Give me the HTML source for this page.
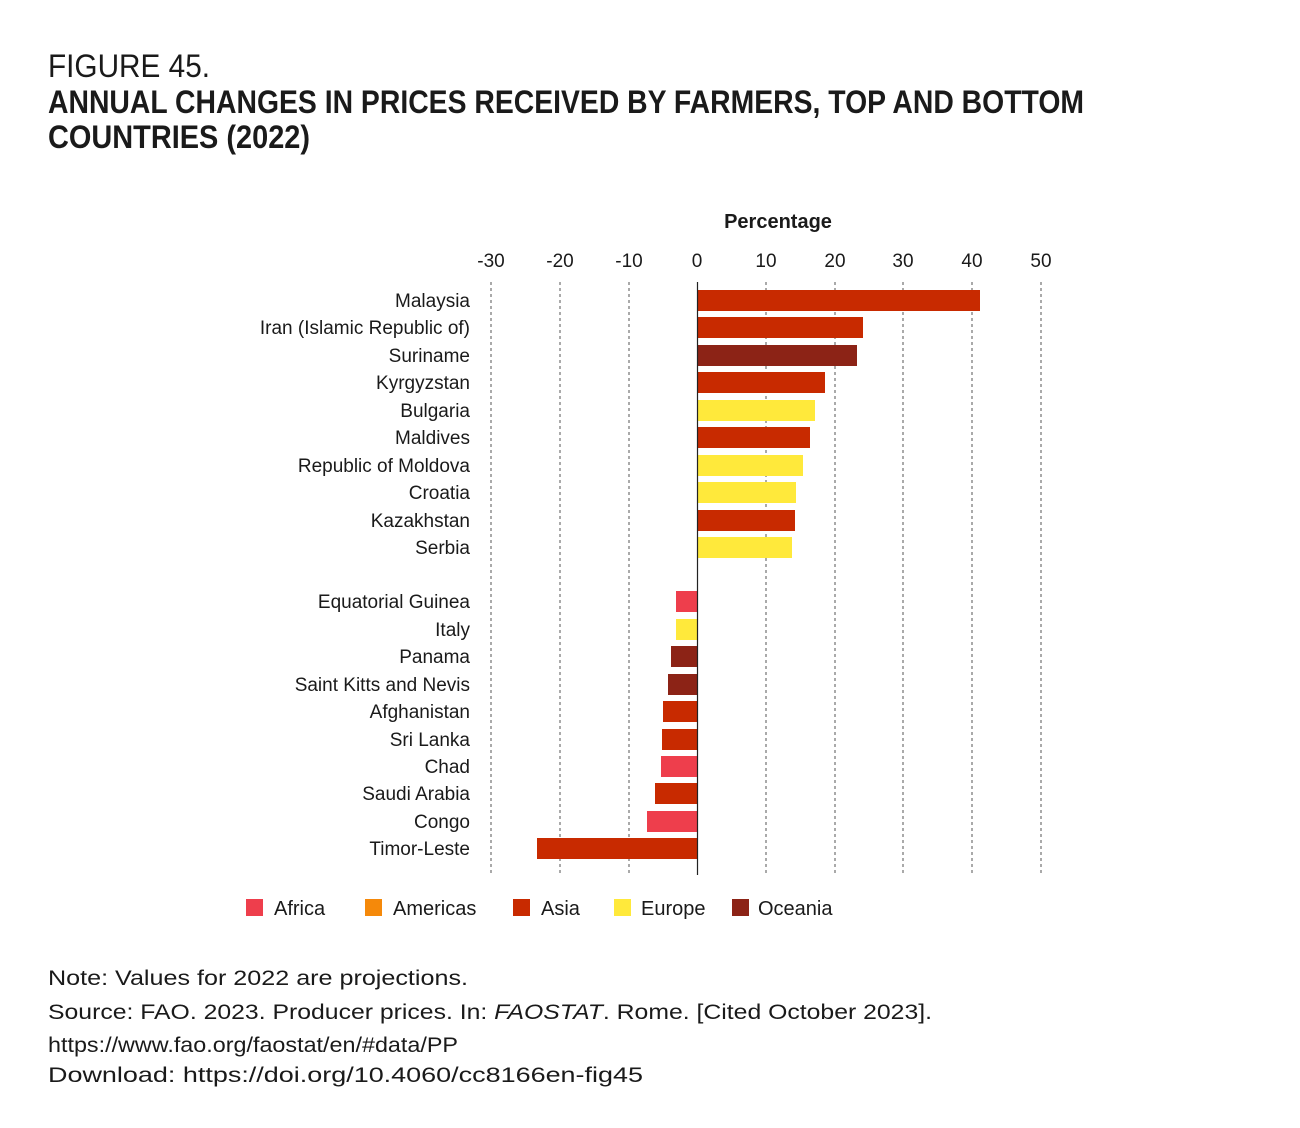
<!DOCTYPE html>
<html><head><meta charset="utf-8"><style>body{margin:0;background:#fff}</style></head>
<body>
<svg width="1300" height="1123" xmlns="http://www.w3.org/2000/svg" font-family="Liberation Sans, sans-serif" fill="#1a1a1a">
<text x="48" y="77" font-size="32" textLength="162" lengthAdjust="spacingAndGlyphs">FIGURE 45.</text>
<text x="48" y="113" font-size="32" font-weight="bold" textLength="1036" lengthAdjust="spacingAndGlyphs">ANNUAL CHANGES IN PRICES RECEIVED BY FARMERS, TOP AND BOTTOM</text>
<text x="48" y="148" font-size="32" font-weight="bold" textLength="262" lengthAdjust="spacingAndGlyphs">COUNTRIES (2022)</text>
<text x="778" y="228" font-size="20" font-weight="bold" text-anchor="middle">Percentage</text>
<g font-size="19" text-anchor="middle">
<text x="491" y="267">-30</text><text x="560" y="267">-20</text><text x="629" y="267">-10</text><text x="697" y="267">0</text><text x="766" y="267">10</text><text x="835" y="267">20</text><text x="903" y="267">30</text><text x="972" y="267">40</text><text x="1041" y="267">50</text>
</g>
<g stroke="#555" stroke-width="1" stroke-dasharray="3,3">
<line x1="491" y1="282" x2="491" y2="875"/><line x1="560" y1="282" x2="560" y2="875"/><line x1="629" y1="282" x2="629" y2="875"/><line x1="766" y1="282" x2="766" y2="875"/><line x1="835" y1="282" x2="835" y2="875"/><line x1="903" y1="282" x2="903" y2="875"/><line x1="972" y1="282" x2="972" y2="875"/><line x1="1041" y1="282" x2="1041" y2="875"/>
</g>
<g>
<rect x="698" y="290" width="282" height="21" fill="#c82a00"/>
<rect x="698" y="317" width="165" height="21" fill="#c82a00"/>
<rect x="698" y="345" width="159" height="21" fill="#8c2316"/>
<rect x="698" y="372" width="127" height="21" fill="#c82a00"/>
<rect x="698" y="400" width="117" height="21" fill="#ffe93b"/>
<rect x="698" y="427" width="112" height="21" fill="#c82a00"/>
<rect x="698" y="455" width="105" height="21" fill="#ffe93b"/>
<rect x="698" y="482" width="98" height="21" fill="#ffe93b"/>
<rect x="698" y="510" width="97" height="21" fill="#c82a00"/>
<rect x="698" y="537" width="94" height="21" fill="#ffe93b"/>
<rect x="676" y="591" width="22" height="21" fill="#ee3e4c"/>
<rect x="676" y="619" width="22" height="21" fill="#ffe93b"/>
<rect x="671" y="646" width="27" height="21" fill="#8c2316"/>
<rect x="668" y="674" width="30" height="21" fill="#8c2316"/>
<rect x="663" y="701" width="35" height="21" fill="#c82a00"/>
<rect x="662" y="729" width="36" height="21" fill="#c82a00"/>
<rect x="661" y="756" width="37" height="21" fill="#ee3e4c"/>
<rect x="655" y="783" width="43" height="21" fill="#c82a00"/>
<rect x="647" y="811" width="51" height="21" fill="#ee3e4c"/>
<rect x="537" y="838" width="161" height="21" fill="#c82a00"/>
</g>
<line x1="697.5" y1="282" x2="697.5" y2="875" stroke="#222" stroke-width="1.2"/>
<g font-size="19" text-anchor="end">
<text x="470" y="307">Malaysia</text><text x="470" y="334">Iran (Islamic Republic of)</text><text x="470" y="362">Suriname</text><text x="470" y="389">Kyrgyzstan</text><text x="470" y="417">Bulgaria</text><text x="470" y="444">Maldives</text><text x="470" y="472">Republic of Moldova</text><text x="470" y="499">Croatia</text><text x="470" y="527">Kazakhstan</text><text x="470" y="554">Serbia</text>
<text x="470" y="608">Equatorial Guinea</text><text x="470" y="636">Italy</text><text x="470" y="663">Panama</text><text x="470" y="691">Saint Kitts and Nevis</text><text x="470" y="718">Afghanistan</text><text x="470" y="746">Sri Lanka</text><text x="470" y="773">Chad</text><text x="470" y="800">Saudi Arabia</text><text x="470" y="828">Congo</text><text x="470" y="855">Timor-Leste</text>
</g>
<g font-size="20">
<rect x="246" y="899" width="17" height="17" fill="#ee3e4c"/><text x="274" y="915">Africa</text>
<rect x="365" y="899" width="17" height="17" fill="#f5890a"/><text x="393" y="915">Americas</text>
<rect x="513" y="899" width="17" height="17" fill="#c82a00"/><text x="541" y="915">Asia</text>
<rect x="614" y="899" width="17" height="17" fill="#ffe93b"/><text x="641" y="915">Europe</text>
<rect x="732" y="899" width="17" height="17" fill="#8c2316"/><text x="758" y="915">Oceania</text>
</g>
<g font-size="21">
<text x="48" y="985" textLength="420" lengthAdjust="spacingAndGlyphs">Note: Values for 2022 are projections.</text>
<text x="48" y="1019" textLength="884" lengthAdjust="spacingAndGlyphs">Source: FAO. 2023. Producer prices. In: <tspan font-style="italic">FAOSTAT</tspan>. Rome. [Cited October 2023].</text>
<text x="48" y="1052" textLength="410" lengthAdjust="spacingAndGlyphs">https://www.fao.org/faostat/en/#data/PP</text>
<text x="48" y="1082" textLength="595" lengthAdjust="spacingAndGlyphs">Download: https://doi.org/10.4060/cc8166en-fig45</text>
</g>
</svg>
</body></html>
